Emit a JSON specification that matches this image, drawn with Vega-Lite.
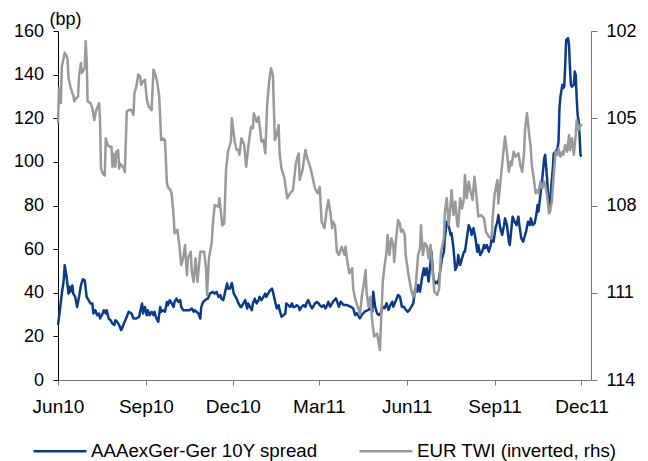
{
"$schema": "https://vega.github.io/schema/vega-lite/v6.json",
"width": 533, "height": 349,
"autosize": {"type": "none"},
"padding": {"left": 58, "top": 31, "right": 57, "bottom": 81},
"background": "white",
"config": {"view": {"stroke": null}, "font": "Liberation Sans",
 "axis": {"grid": false, "labelFont": "Liberation Sans", "labelFontSize": 18, "labelColor": "#000", "titleFont": "Liberation Sans"}},
"datasets": {
"spread": [
{"date":"2010-06-01","bp":25.2},{"date":"2010-06-03","bp":32},{"date":"2010-06-05","bp":39.6},{"date":"2010-06-07","bp":45.7},{"date":"2010-06-08","bp":52.6},{"date":"2010-06-10","bp":47.3},{"date":"2010-06-12","bp":39.6},{"date":"2010-06-13","bp":42.7},{"date":"2010-06-14","bp":40.4},{"date":"2010-06-16","bp":43.4},{"date":"2010-06-17","bp":39.6},{"date":"2010-06-19","bp":38.1},{"date":"2010-06-21","bp":33.5},{"date":"2010-06-23","bp":38.1},{"date":"2010-06-25","bp":43.4},{"date":"2010-06-27","bp":46.2},{"date":"2010-06-29","bp":45.7},{"date":"2010-07-01","bp":38.1},{"date":"2010-07-03","bp":36.6},{"date":"2010-07-05","bp":35.1},{"date":"2010-07-07","bp":35.1},{"date":"2010-07-08","bp":30.5},{"date":"2010-07-10","bp":32},{"date":"2010-07-12","bp":29.7},{"date":"2010-07-14","bp":30.5},{"date":"2010-07-15","bp":28.2},{"date":"2010-07-17","bp":29.7},{"date":"2010-07-19","bp":32},{"date":"2010-07-21","bp":30.5},{"date":"2010-07-22","bp":32},{"date":"2010-07-24","bp":28.2},{"date":"2010-07-26","bp":27.4},{"date":"2010-07-28","bp":25.9},{"date":"2010-07-30","bp":25.2},{"date":"2010-07-31","bp":27.4},{"date":"2010-08-02","bp":26.7},{"date":"2010-08-04","bp":25.2},{"date":"2010-08-06","bp":22.9},{"date":"2010-08-07","bp":23.6},{"date":"2010-08-09","bp":25.9},{"date":"2010-08-12","bp":29},{"date":"2010-08-14","bp":31.3},{"date":"2010-08-17","bp":30.5},{"date":"2010-08-19","bp":28.2},{"date":"2010-08-22","bp":28.2},{"date":"2010-08-25","bp":29},{"date":"2010-08-26","bp":31.3},{"date":"2010-08-28","bp":35.1},{"date":"2010-08-29","bp":30.5},{"date":"2010-08-31","bp":33.5},{"date":"2010-09-02","bp":29.7},{"date":"2010-09-03","bp":32},{"date":"2010-09-05","bp":29.7},{"date":"2010-09-07","bp":31.3},{"date":"2010-09-09","bp":29.7},{"date":"2010-09-10","bp":31.3},{"date":"2010-09-12","bp":28.2},{"date":"2010-09-14","bp":26.7},{"date":"2010-09-16","bp":33.5},{"date":"2010-09-17","bp":31.3},{"date":"2010-09-19","bp":32},{"date":"2010-09-21","bp":31.3},{"date":"2010-09-23","bp":35.8},{"date":"2010-09-24","bp":34.3},{"date":"2010-09-26","bp":36.6},{"date":"2010-09-28","bp":35.1},{"date":"2010-09-30","bp":33.5},{"date":"2010-10-01","bp":35.8},{"date":"2010-10-03","bp":37.3},{"date":"2010-10-05","bp":35.8},{"date":"2010-10-07","bp":36.6},{"date":"2010-10-08","bp":33.5},{"date":"2010-10-10","bp":32},{"date":"2010-10-14","bp":32},{"date":"2010-10-17","bp":32},{"date":"2010-10-19","bp":32.8},{"date":"2010-10-21","bp":31.3},{"date":"2010-10-22","bp":32},{"date":"2010-10-24","bp":31.3},{"date":"2010-10-26","bp":30.5},{"date":"2010-10-28","bp":28.2},{"date":"2010-10-29","bp":33.5},{"date":"2010-10-31","bp":35.8},{"date":"2010-11-02","bp":36.6},{"date":"2010-11-04","bp":37.3},{"date":"2010-11-05","bp":37.3},{"date":"2010-11-07","bp":39.6},{"date":"2010-11-10","bp":40.4},{"date":"2010-11-12","bp":39.6},{"date":"2010-11-14","bp":40.4},{"date":"2010-11-16","bp":38.1},{"date":"2010-11-18","bp":38.9},{"date":"2010-11-19","bp":37.3},{"date":"2010-11-21","bp":36.6},{"date":"2010-11-23","bp":40.4},{"date":"2010-11-25","bp":44.2},{"date":"2010-11-26","bp":41.9},{"date":"2010-11-28","bp":41.9},{"date":"2010-11-30","bp":44.5},{"date":"2010-12-02","bp":39.6},{"date":"2010-12-03","bp":38.9},{"date":"2010-12-05","bp":37.3},{"date":"2010-12-07","bp":35.1},{"date":"2010-12-09","bp":33.5},{"date":"2010-12-10","bp":33.5},{"date":"2010-12-12","bp":35.1},{"date":"2010-12-14","bp":36.6},{"date":"2010-12-16","bp":32.8},{"date":"2010-12-17","bp":35.1},{"date":"2010-12-19","bp":33.5},{"date":"2010-12-21","bp":32},{"date":"2010-12-22","bp":35.1},{"date":"2010-12-24","bp":37.3},{"date":"2010-12-26","bp":35.1},{"date":"2010-12-28","bp":36.6},{"date":"2010-12-29","bp":38.1},{"date":"2010-12-31","bp":36.6},{"date":"2011-01-02","bp":38.1},{"date":"2011-01-04","bp":39.6},{"date":"2011-01-05","bp":38.1},{"date":"2011-01-07","bp":39.6},{"date":"2011-01-09","bp":41.2},{"date":"2011-01-11","bp":41.9},{"date":"2011-01-12","bp":40.4},{"date":"2011-01-14","bp":36.6},{"date":"2011-01-16","bp":32.8},{"date":"2011-01-18","bp":34.3},{"date":"2011-01-19","bp":32},{"date":"2011-01-21","bp":29},{"date":"2011-01-23","bp":29.7},{"date":"2011-01-25","bp":30.5},{"date":"2011-01-26","bp":35.1},{"date":"2011-01-28","bp":34.3},{"date":"2011-01-30","bp":33.5},{"date":"2011-02-01","bp":35.1},{"date":"2011-02-02","bp":33.5},{"date":"2011-02-04","bp":33.5},{"date":"2011-02-06","bp":34.3},{"date":"2011-02-08","bp":33.5},{"date":"2011-02-09","bp":32},{"date":"2011-02-11","bp":33.5},{"date":"2011-02-13","bp":34.3},{"date":"2011-02-15","bp":33.5},{"date":"2011-02-16","bp":35.1},{"date":"2011-02-18","bp":36.6},{"date":"2011-02-20","bp":34.3},{"date":"2011-02-22","bp":32.8},{"date":"2011-02-23","bp":33.5},{"date":"2011-02-25","bp":35.1},{"date":"2011-02-27","bp":35.8},{"date":"2011-03-01","bp":35.1},{"date":"2011-03-02","bp":34.3},{"date":"2011-03-04","bp":33.5},{"date":"2011-03-06","bp":34.3},{"date":"2011-03-08","bp":32.8},{"date":"2011-03-09","bp":33.5},{"date":"2011-03-11","bp":35.8},{"date":"2011-03-13","bp":33.6},{"date":"2011-03-16","bp":35.9},{"date":"2011-03-19","bp":37.4},{"date":"2011-03-22","bp":33.6},{"date":"2011-03-24","bp":35.9},{"date":"2011-03-27","bp":34.4},{"date":"2011-03-30","bp":34.4},{"date":"2011-04-03","bp":33.6},{"date":"2011-04-06","bp":32.9},{"date":"2011-04-08","bp":29.8},{"date":"2011-04-10","bp":30.6},{"date":"2011-04-13","bp":28.3},{"date":"2011-04-15","bp":29.8},{"date":"2011-04-18","bp":31.3},{"date":"2011-04-22","bp":32.1},{"date":"2011-04-24","bp":32.9},{"date":"2011-04-26","bp":31.3},{"date":"2011-04-27","bp":40.5},{"date":"2011-04-29","bp":33.6},{"date":"2011-05-01","bp":30.6},{"date":"2011-05-03","bp":29.8},{"date":"2011-05-05","bp":30.6},{"date":"2011-05-07","bp":33.6},{"date":"2011-05-09","bp":32.9},{"date":"2011-05-11","bp":35.2},{"date":"2011-05-13","bp":32.1},{"date":"2011-05-15","bp":34.4},{"date":"2011-05-17","bp":35.9},{"date":"2011-05-18","bp":33.6},{"date":"2011-05-21","bp":36.7},{"date":"2011-05-23","bp":39},{"date":"2011-05-25","bp":38.2},{"date":"2011-05-27","bp":33.6},{"date":"2011-05-29","bp":33.6},{"date":"2011-05-30","bp":32.9},{"date":"2011-06-02","bp":31.3},{"date":"2011-06-04","bp":32.1},{"date":"2011-06-06","bp":33.6},{"date":"2011-06-08","bp":35.2},{"date":"2011-06-10","bp":42},{"date":"2011-06-12","bp":40.5},{"date":"2011-06-13","bp":43.6},{"date":"2011-06-15","bp":40.5},{"date":"2011-06-17","bp":46.6},{"date":"2011-06-19","bp":51.2},{"date":"2011-06-20","bp":48.1},{"date":"2011-06-22","bp":51.2},{"date":"2011-06-24","bp":45.1},{"date":"2011-06-26","bp":54.2},{"date":"2011-06-27","bp":58.8},{"date":"2011-06-29","bp":46.6},{"date":"2011-07-01","bp":44.3},{"date":"2011-07-03","bp":45.1},{"date":"2011-07-04","bp":44.3},{"date":"2011-07-06","bp":49.7},{"date":"2011-07-08","bp":55.8},{"date":"2011-07-10","bp":58.8},{"date":"2011-07-11","bp":65},{"date":"2011-07-13","bp":72.6},{"date":"2011-07-15","bp":71},{"date":"2011-07-17","bp":66.5},{"date":"2011-07-18","bp":67.3},{"date":"2011-07-20","bp":60.4},{"date":"2011-07-22","bp":50.4},{"date":"2011-07-24","bp":52.7},{"date":"2011-07-25","bp":57.3},{"date":"2011-07-27","bp":52.7},{"date":"2011-07-29","bp":55.8},{"date":"2011-07-31","bp":58.8},{"date":"2011-08-01","bp":58.8},{"date":"2011-08-03","bp":65},{"date":"2011-08-05","bp":71},{"date":"2011-08-07","bp":68.8},{"date":"2011-08-08","bp":66.5},{"date":"2011-08-10","bp":69.6},{"date":"2011-08-12","bp":65},{"date":"2011-08-14","bp":58.8},{"date":"2011-08-15","bp":61.9},{"date":"2011-08-17","bp":57.3},{"date":"2011-08-19","bp":58.8},{"date":"2011-08-21","bp":61.9},{"date":"2011-08-22","bp":60.4},{"date":"2011-08-24","bp":61.9},{"date":"2011-08-26","bp":58.8},{"date":"2011-08-28","bp":61.9},{"date":"2011-08-29","bp":65},{"date":"2011-08-31","bp":63.4},{"date":"2011-09-02","bp":69.6},{"date":"2011-09-04","bp":72.6},{"date":"2011-09-05","bp":75.6},{"date":"2011-09-07","bp":69.6},{"date":"2011-09-09","bp":66.5},{"date":"2011-09-11","bp":71},{"date":"2011-09-12","bp":74.1},{"date":"2011-09-14","bp":71},{"date":"2011-09-16","bp":63.4},{"date":"2011-09-17","bp":61.9},{"date":"2011-09-19","bp":71},{"date":"2011-09-20","bp":74.9},{"date":"2011-09-22","bp":72.6},{"date":"2011-09-24","bp":71},{"date":"2011-09-26","bp":74.9},{"date":"2011-09-27","bp":71},{"date":"2011-09-29","bp":65},{"date":"2011-10-01","bp":63.4},{"date":"2011-10-02","bp":65},{"date":"2011-10-04","bp":68},{"date":"2011-10-06","bp":72.6},{"date":"2011-10-08","bp":71},{"date":"2011-10-09","bp":74.1},{"date":"2011-10-11","bp":71},{"date":"2011-10-13","bp":71.8},{"date":"2011-10-15","bp":76.4},{"date":"2011-10-16","bp":80.2},{"date":"2011-10-17","bp":77.2},{"date":"2011-10-19","bp":84.8},{"date":"2011-10-21","bp":92.5},{"date":"2011-10-22","bp":97},{"date":"2011-10-23","bp":101.6},{"date":"2011-10-24","bp":103.2},{"date":"2011-10-26","bp":92.5},{"date":"2011-10-27","bp":84.8},{"date":"2011-10-29","bp":77.2},{"date":"2011-10-30","bp":86.3},{"date":"2011-11-01","bp":97},{"date":"2011-11-02","bp":103.9},{"date":"2011-11-04","bp":104.7},{"date":"2011-11-06","bp":106.2},{"date":"2011-11-07","bp":109.3},{"date":"2011-11-08","bp":124.6},{"date":"2011-11-09","bp":129.9},{"date":"2011-11-11","bp":135.3},{"date":"2011-11-12","bp":133.8},{"date":"2011-11-13","bp":134.5},{"date":"2011-11-14","bp":144.4},{"date":"2011-11-15","bp":155.9},{"date":"2011-11-17","bp":156.7},{"date":"2011-11-18","bp":153.6},{"date":"2011-11-19","bp":142.9},{"date":"2011-11-20","bp":135.3},{"date":"2011-11-21","bp":134.5},{"date":"2011-11-23","bp":135.3},{"date":"2011-11-24","bp":141.4},{"date":"2011-11-25","bp":139.8},{"date":"2011-11-26","bp":129.2},{"date":"2011-11-27","bp":121.5},{"date":"2011-11-28","bp":119.2},{"date":"2011-11-29","bp":112.3},{"date":"2011-11-30","bp":103.2},{"date":"2011-12-01","bp":102.4}
],
"twi": [
{"date":"2010-06-01","twi":105.17},{"date":"2010-06-02","twi":103.97},{"date":"2010-06-04","twi":104.48},{"date":"2010-06-05","twi":103.22},{"date":"2010-06-07","twi":102.92},{"date":"2010-06-08","twi":102.75},{"date":"2010-06-10","twi":102.86},{"date":"2010-06-11","twi":102.98},{"date":"2010-06-12","twi":103.61},{"date":"2010-06-14","twi":103.91},{"date":"2010-06-16","twi":104.14},{"date":"2010-06-17","twi":104.19},{"date":"2010-06-18","twi":104.42},{"date":"2010-06-20","twi":104.31},{"date":"2010-06-22","twi":104.25},{"date":"2010-06-23","twi":103.56},{"date":"2010-06-25","twi":103.10},{"date":"2010-06-26","twi":103.44},{"date":"2010-06-27","twi":103.39},{"date":"2010-06-29","twi":103.27},{"date":"2010-06-30","twi":102.35},{"date":"2010-07-01","twi":102.98},{"date":"2010-07-02","twi":104.42},{"date":"2010-07-05","twi":104.48},{"date":"2010-07-07","twi":104.66},{"date":"2010-07-09","twi":105.06},{"date":"2010-07-11","twi":104.72},{"date":"2010-07-12","twi":104.66},{"date":"2010-07-14","twi":104.48},{"date":"2010-07-15","twi":105.06},{"date":"2010-07-16","twi":106.73},{"date":"2010-07-18","twi":106.91},{"date":"2010-07-20","twi":106.97},{"date":"2010-07-21","twi":105.69},{"date":"2010-07-23","twi":105.92},{"date":"2010-07-25","twi":105.98},{"date":"2010-07-27","twi":105.98},{"date":"2010-07-28","twi":106.67},{"date":"2010-07-29","twi":106.22},{"date":"2010-07-31","twi":106.67},{"date":"2010-08-01","twi":106.16},{"date":"2010-08-03","twi":106.10},{"date":"2010-08-04","twi":106.73},{"date":"2010-08-05","twi":106.56},{"date":"2010-08-08","twi":106.67},{"date":"2010-08-10","twi":106.85},{"date":"2010-08-12","twi":104.77},{"date":"2010-08-14","twi":104.72},{"date":"2010-08-17","twi":104.72},{"date":"2010-08-19","twi":104.89},{"date":"2010-08-20","twi":104.14},{"date":"2010-08-22","twi":103.91},{"date":"2010-08-24","twi":103.50},{"date":"2010-08-26","twi":103.56},{"date":"2010-08-27","twi":103.85},{"date":"2010-08-29","twi":103.73},{"date":"2010-08-31","twi":103.67},{"date":"2010-09-01","twi":104.02},{"date":"2010-09-02","twi":104.36},{"date":"2010-09-04","twi":104.60},{"date":"2010-09-07","twi":104.72},{"date":"2010-09-09","twi":103.33},{"date":"2010-09-11","twi":103.50},{"date":"2010-09-13","twi":103.79},{"date":"2010-09-15","twi":104.25},{"date":"2010-09-17","twi":105.75},{"date":"2010-09-19","twi":105.69},{"date":"2010-09-21","twi":105.75},{"date":"2010-09-23","twi":107.21},{"date":"2010-09-24","twi":107.36},{"date":"2010-09-27","twi":107.48},{"date":"2010-09-28","twi":107.60},{"date":"2010-09-30","twi":108.33},{"date":"2010-10-01","twi":108.95},{"date":"2010-10-04","twi":108.84},{"date":"2010-10-06","twi":109.36},{"date":"2010-10-08","twi":110.05},{"date":"2010-10-10","twi":109.82},{"date":"2010-10-12","twi":109.36},{"date":"2010-10-14","twi":110.40},{"date":"2010-10-15","twi":109.82},{"date":"2010-10-18","twi":109.59},{"date":"2010-10-19","twi":110.27},{"date":"2010-10-21","twi":110.63},{"date":"2010-10-23","twi":109.82},{"date":"2010-10-25","twi":110.63},{"date":"2010-10-28","twi":109.59},{"date":"2010-11-01","twi":109.59},{"date":"2010-11-03","twi":110.16},{"date":"2010-11-04","twi":111.08},{"date":"2010-11-06","twi":109.82},{"date":"2010-11-09","twi":109.25},{"date":"2010-11-10","twi":108.68},{"date":"2010-11-12","twi":107.99},{"date":"2010-11-16","twi":108.04},{"date":"2010-11-17","twi":107.75},{"date":"2010-11-20","twi":108.68},{"date":"2010-11-22","twi":108.62},{"date":"2010-11-24","twi":106.73},{"date":"2010-11-26","twi":106.15},{"date":"2010-11-29","twi":105.80},{"date":"2010-11-30","twi":105.00},{"date":"2010-12-03","twi":105.80},{"date":"2010-12-05","twi":106.09},{"date":"2010-12-07","twi":106.09},{"date":"2010-12-08","twi":106.26},{"date":"2010-12-10","twi":105.69},{"date":"2010-12-13","twi":105.92},{"date":"2010-12-15","twi":106.67},{"date":"2010-12-17","twi":106.04},{"date":"2010-12-20","twi":105.29},{"date":"2010-12-22","twi":105.35},{"date":"2010-12-23","twi":104.83},{"date":"2010-12-26","twi":105.12},{"date":"2010-12-28","twi":104.95},{"date":"2010-12-31","twi":105.80},{"date":"2011-01-02","twi":105.75},{"date":"2011-01-04","twi":106.21},{"date":"2011-01-06","twi":104.55},{"date":"2011-01-08","twi":103.74},{"date":"2011-01-10","twi":103.28},{"date":"2011-01-12","twi":103.52},{"date":"2011-01-14","twi":105.75},{"date":"2011-01-16","twi":105.58},{"date":"2011-01-18","twi":105.23},{"date":"2011-01-19","twi":106.21},{"date":"2011-01-21","twi":106.73},{"date":"2011-01-24","twi":107.06},{"date":"2011-01-27","twi":107.75},{"date":"2011-01-30","twi":107.58},{"date":"2011-02-02","twi":107.47},{"date":"2011-02-05","twi":106.55},{"date":"2011-02-08","twi":106.21},{"date":"2011-02-09","twi":107.12},{"date":"2011-02-12","twi":106.78},{"date":"2011-02-15","twi":106.09},{"date":"2011-02-17","twi":106.38},{"date":"2011-02-20","twi":106.67},{"date":"2011-02-22","twi":106.95},{"date":"2011-02-25","twi":107.41},{"date":"2011-02-28","twi":107.58},{"date":"2011-03-02","twi":107.36},{"date":"2011-03-04","twi":108.56},{"date":"2011-03-07","twi":108.78},{"date":"2011-03-09","twi":108.21},{"date":"2011-03-11","twi":107.81},{"date":"2011-03-13","twi":108.21},{"date":"2011-03-15","twi":108.78},{"date":"2011-03-16","twi":108.56},{"date":"2011-03-18","twi":108.68},{"date":"2011-03-20","twi":109.59},{"date":"2011-03-22","twi":109.70},{"date":"2011-03-25","twi":109.42},{"date":"2011-03-28","twi":109.70},{"date":"2011-03-29","twi":109.42},{"date":"2011-03-31","twi":109.94},{"date":"2011-04-02","twi":110.33},{"date":"2011-04-05","twi":110.16},{"date":"2011-04-06","twi":110.85},{"date":"2011-04-08","twi":111.19},{"date":"2011-04-10","twi":111.42},{"date":"2011-04-12","twi":111.59},{"date":"2011-04-13","twi":111.77},{"date":"2011-04-15","twi":111.14},{"date":"2011-04-17","twi":110.73},{"date":"2011-04-19","twi":110.22},{"date":"2011-04-20","twi":110.96},{"date":"2011-04-22","twi":111.48},{"date":"2011-04-24","twi":111.14},{"date":"2011-04-26","twi":112.00},{"date":"2011-04-28","twi":112.51},{"date":"2011-05-01","twi":112.40},{"date":"2011-05-02","twi":112.57},{"date":"2011-05-04","twi":112.97},{"date":"2011-05-05","twi":112.17},{"date":"2011-05-07","twi":110.63},{"date":"2011-05-09","twi":110.05},{"date":"2011-05-11","twi":109.59},{"date":"2011-05-12","twi":109.01},{"date":"2011-05-14","twi":109.70},{"date":"2011-05-16","twi":109.13},{"date":"2011-05-18","twi":109.36},{"date":"2011-05-19","twi":109.94},{"date":"2011-05-21","twi":109.13},{"date":"2011-05-23","twi":108.50},{"date":"2011-05-25","twi":108.62},{"date":"2011-05-26","twi":108.90},{"date":"2011-05-28","twi":108.84},{"date":"2011-05-30","twi":109.01},{"date":"2011-05-31","twi":109.70},{"date":"2011-06-03","twi":110.40},{"date":"2011-06-06","twi":110.93},{"date":"2011-06-08","twi":111.15},{"date":"2011-06-10","twi":111.00},{"date":"2011-06-13","twi":109.70},{"date":"2011-06-15","twi":109.47},{"date":"2011-06-16","twi":108.68},{"date":"2011-06-18","twi":109.70},{"date":"2011-06-20","twi":109.30},{"date":"2011-06-22","twi":109.36},{"date":"2011-06-24","twi":109.82},{"date":"2011-06-26","twi":109.36},{"date":"2011-06-28","twi":110.16},{"date":"2011-06-30","twi":110.96},{"date":"2011-07-03","twi":111.08},{"date":"2011-07-05","twi":110.85},{"date":"2011-07-07","twi":109.59},{"date":"2011-07-10","twi":109.13},{"date":"2011-07-11","twi":108.21},{"date":"2011-07-13","twi":107.75},{"date":"2011-07-15","twi":108.68},{"date":"2011-07-17","twi":107.99},{"date":"2011-07-18","twi":107.47},{"date":"2011-07-20","twi":108.33},{"date":"2011-07-22","twi":107.87},{"date":"2011-07-24","twi":108.68},{"date":"2011-07-25","twi":108.73},{"date":"2011-07-27","twi":107.75},{"date":"2011-07-29","twi":108.10},{"date":"2011-07-31","twi":107.75},{"date":"2011-08-01","twi":106.95},{"date":"2011-08-03","twi":107.75},{"date":"2011-08-05","twi":107.18},{"date":"2011-08-07","twi":107.53},{"date":"2011-08-09","twi":107.81},{"date":"2011-08-11","twi":107.01},{"date":"2011-08-14","twi":107.99},{"date":"2011-08-15","twi":108.38},{"date":"2011-08-18","twi":108.33},{"date":"2011-08-21","twi":108.44},{"date":"2011-08-23","twi":108.90},{"date":"2011-08-26","twi":109.07},{"date":"2011-08-29","twi":109.13},{"date":"2011-08-30","twi":108.44},{"date":"2011-09-01","twi":107.64},{"date":"2011-09-04","twi":107.12},{"date":"2011-09-05","twi":107.93},{"date":"2011-09-07","twi":107.24},{"date":"2011-09-10","twi":106.26},{"date":"2011-09-12","twi":105.63},{"date":"2011-09-14","twi":106.15},{"date":"2011-09-16","twi":106.84},{"date":"2011-09-18","twi":106.49},{"date":"2011-09-19","twi":106.61},{"date":"2011-09-21","twi":106.15},{"date":"2011-09-23","twi":106.32},{"date":"2011-09-26","twi":106.21},{"date":"2011-09-28","twi":106.61},{"date":"2011-09-30","twi":106.84},{"date":"2011-10-02","twi":106.15},{"date":"2011-10-03","twi":105.35},{"date":"2011-10-05","twi":104.83},{"date":"2011-10-07","twi":105.47},{"date":"2011-10-09","twi":106.04},{"date":"2011-10-10","twi":106.61},{"date":"2011-10-12","twi":107.06},{"date":"2011-10-14","twi":107.58},{"date":"2011-10-16","twi":107.47},{"date":"2011-10-17","twi":107.58},{"date":"2011-10-19","twi":107.18},{"date":"2011-10-21","twi":107.41},{"date":"2011-10-23","twi":107.18},{"date":"2011-10-24","twi":107.30},{"date":"2011-10-26","twi":107.64},{"date":"2011-10-28","twi":108.27},{"date":"2011-10-30","twi":108.04},{"date":"2011-10-31","twi":107.87},{"date":"2011-11-02","twi":106.95},{"date":"2011-11-04","twi":106.15},{"date":"2011-11-06","twi":106.26},{"date":"2011-11-07","twi":106.04},{"date":"2011-11-09","twi":106.32},{"date":"2011-11-11","twi":106.15},{"date":"2011-11-12","twi":106.26},{"date":"2011-11-14","twi":105.92},{"date":"2011-11-16","twi":106.15},{"date":"2011-11-18","twi":105.58},{"date":"2011-11-19","twi":106.09},{"date":"2011-11-21","twi":105.69},{"date":"2011-11-23","twi":106.26},{"date":"2011-11-25","twi":105.58},{"date":"2011-11-26","twi":105.06},{"date":"2011-11-28","twi":105.41},{"date":"2011-11-30","twi":105.23},{"date":"2011-12-02","twi":105.23}
]
},
"layer": [
{"data": {"name": "spread"},
 "mark": {"type": "line", "strokeWidth": 2.5, "strokeJoin": "round"},
 "encoding": {
  "x": {"field": "date", "type": "temporal",
   "scale": {"type": "utc", "domain": [{"year": 2010, "month": 6, "date": 1, "utc": true}, {"year": 2011, "month": 12, "date": 11, "utc": true}]},
   "axis": {"title": null, "labelExpr": "utcFormat(datum.value, '%b%y')", "labelFlush": false, "labelOverlap": false, "labelFontSize": 19,
    "values": [{"year": 2010, "month": 6, "date": 1, "utc": true}, {"year": 2010, "month": 9, "date": 1, "utc": true}, {"year": 2010, "month": 12, "date": 1, "utc": true}, {"year": 2011, "month": 3, "date": 1, "utc": true}, {"year": 2011, "month": 6, "date": 1, "utc": true}, {"year": 2011, "month": 9, "date": 1, "utc": true}, {"year": 2011, "month": 12, "date": 1, "utc": true}],
    "tickSize": 5, "labelPadding": 12, "domainColor": "#777777", "tickColor": "#777777", "domainWidth": 1, "tickWidth": 1}},
  "y": {"field": "bp", "type": "quantitative", "scale": {"domain": [0, 160], "nice": false},
   "axis": {"values": [0, 20, 40, 60, 80, 100, 120, 140, 160], "title": "(bp)", "titleAngle": 0, "titleX": -9, "titleY": -6.5, "titleAlign": "left", "titleBaseline": "alphabetic", "titleFontSize": 18, "titleFontWeight": "normal", "titleColor": "#000",
    "tickSize": 5, "labelPadding": 9.5, "domainColor": "#000000", "tickColor": "#000000", "domainWidth": 1}},
  "color": {"datum": "AAAexGer-Ger 10Y spread", "type": "nominal",
   "scale": {"domain": ["AAAexGer-Ger 10Y spread", "EUR TWI (inverted, rhs)"], "range": ["#0B3B86", "#999999"]},
   "legend": {"orient": "none", "legendX": -26, "legendY": 392, "direction": "horizontal", "title": null, "symbolType": "stroke", "symbolSize": 2809, "symbolStrokeWidth": 2.5, "labelFont": "Liberation Sans", "labelFontSize": 18.7, "labelColor": "#000", "labelOffset": 3, "columnPadding": 36, "padding": 0, "labelLimit": 400}}
 }},
{"data": {"name": "twi"},
 "mark": {"type": "line", "strokeWidth": 2.5, "strokeJoin": "round"},
 "encoding": {
  "x": {"field": "date", "type": "temporal"},
  "y": {"field": "twi", "type": "quantitative", "scale": {"domain": [102, 114], "reverse": true, "nice": false, "zero": false},
   "axis": {"orient": "right", "title": null, "values": [102, 105, 108, 111, 114], "tickSize": 6, "labelPadding": 9, "domainColor": "#777777", "tickColor": "#777777", "domainWidth": 1}},
  "color": {"datum": "EUR TWI (inverted, rhs)", "type": "nominal"}
 }}
],
"resolve": {"scale": {"y": "independent"}}
}
